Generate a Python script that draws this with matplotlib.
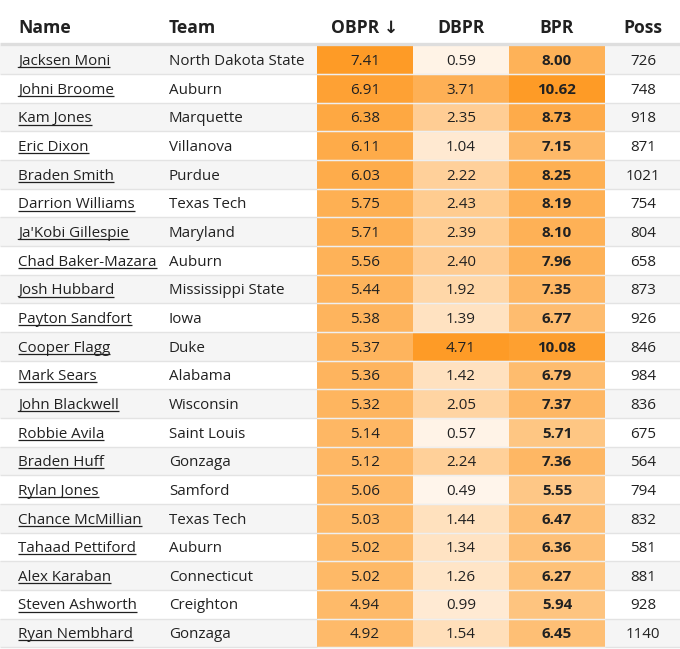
import matplotlib
matplotlib.use("Agg")
import matplotlib.pyplot as plt
from matplotlib.patches import Rectangle
from matplotlib.colors import to_rgb
from matplotlib import font_manager
import numpy as np

# pick a family that actually has a bold face installed
fams = {}
for f in font_manager.fontManager.ttflist:
    fams.setdefault(f.name, set()).add(f.weight if isinstance(f.weight, int) else 400)
family = 'Open Sans'
for cand in ['Noto Sans', 'Open Sans']:
    w = fams.get(cand, set())
    if any(int(x) >= 600 for x in w):
        family = cand
        break
plt.rcParams['font.family'] = [family, 'DejaVu Sans']

names = ["Jacksen Moni", "Johni Broome", "Kam Jones", "Eric Dixon", "Braden Smith",
         "Darrion Williams", "Ja'Kobi Gillespie", "Chad Baker-Mazara", "Josh Hubbard",
         "Payton Sandfort", "Cooper Flagg", "Mark Sears", "John Blackwell", "Robbie Avila",
         "Braden Huff", "Rylan Jones", "Chance McMillian", "Tahaad Pettiford",
         "Alex Karaban", "Steven Ashworth", "Ryan Nembhard"]
teams = ["North Dakota State", "Auburn", "Marquette", "Villanova", "Purdue",
         "Texas Tech", "Maryland", "Auburn", "Mississippi State", "Iowa", "Duke",
         "Alabama", "Wisconsin", "Saint Louis", "Gonzaga", "Samford", "Texas Tech",
         "Auburn", "Connecticut", "Creighton", "Gonzaga"]
obpr = [7.41, 6.91, 6.38, 6.11, 6.03, 5.75, 5.71, 5.56, 5.44, 5.38, 5.37,
        5.36, 5.32, 5.14, 5.12, 5.06, 5.03, 5.02, 5.02, 4.94, 4.92]
dbpr = [0.59, 3.71, 2.35, 1.04, 2.22, 2.43, 2.39, 2.40, 1.92, 1.39, 4.71,
        1.42, 2.05, 0.57, 2.24, 0.49, 1.44, 1.34, 1.26, 0.99, 1.54]
bpr = [8.00, 10.62, 8.73, 7.15, 8.25, 8.19, 8.10, 7.96, 7.35, 6.77, 10.08,
       6.79, 7.37, 5.71, 7.36, 5.55, 6.47, 6.36, 6.27, 5.94, 6.45]
poss = [726, 748, 918, 871, 1021, 754, 804, 658, 873, 926, 846,
        984, 836, 675, 564, 794, 832, 581, 881, 928, 1140]
headers = ["Name", "Team", "OBPR \u2193", "DBPR", "BPR", "Poss"]

W, H = 680, 649
fig = plt.figure(figsize=(W / 100, H / 100), dpi=100)
ax = fig.add_axes([0, 0, 1, 1])
ax.set_xlim(0, W)
ax.set_ylim(H, 0)
ax.axis('off')

txt = '#212121'
light = np.array(to_rgb('#fff7ef'))
dark = np.array(to_rgb('#fe9b26'))

def heat(v, vmin, vmax):
    t = (v - vmin) / (vmax - vmin)
    return tuple(light + (dark - light) * t)

top = 45.5
rh = 28.65
cw = 96
# (left edge, values, colour domain low end)
heat_cols = [(317, obpr, 0.0), (413, dbpr, 0.4), (509, bpr, 0.0)]
fs = 10.9

for i in range(len(names)):
    y0 = top + i * rh
    yc = y0 + rh / 2
    bg = '#f5f5f5' if i % 2 == 0 else 'white'
    ax.add_patch(Rectangle((0, y0), W, rh, color=bg, lw=0))
    for x0, vals, lo in heat_cols:
        ax.add_patch(Rectangle((x0, y0), cw, rh, color=heat(vals[i], lo, max(vals)), lw=0))
    ax.plot([0, W], [y0 + rh, y0 + rh], color='#e3e3e3', lw=1, solid_capstyle='butt')
    ax.plot([317, 605], [y0 + rh, y0 + rh], color='white', lw=1, alpha=0.45,
            solid_capstyle='butt')
    base = yc + 5.3
    t = ax.text(18, base, names[i], ha='left', va='baseline', fontsize=fs, color=txt)
    t._underline = base + 2.2
    ax.text(169, base, teams[i], ha='left', va='baseline', fontsize=fs, color=txt)
    ax.text(365, base, f"{obpr[i]:.2f}", ha='center', va='baseline', fontsize=fs, color=txt)
    ax.text(461, base, f"{dbpr[i]:.2f}", ha='center', va='baseline', fontsize=fs, color=txt)
    ax.text(557, base, f"{bpr[i]:.2f}", ha='center', va='baseline', fontsize=fs,
            color=txt, fontweight='bold')
    ax.text(643, base, str(poss[i]), ha='center', va='baseline', fontsize=fs, color=txt)

# header
hx = [(18, 'left'), (169, 'left'), (365, 'center'), (461, 'center'), (557, 'center'), (643, 'center')]
for (x, ha), h in zip(hx, headers):
    ax.text(x, 32.7, h, ha=ha, va='baseline', fontsize=12.6, fontweight='bold', color=txt)
ax.plot([0, W], [44.2, 44.2], color='#dedede', lw=2.4, solid_capstyle='butt')

# underline the player names
fig.canvas.draw()
r = fig.canvas.get_renderer()
inv = ax.transData.inverted()
for t in list(ax.texts):
    if hasattr(t, '_underline'):
        bb = t.get_window_extent(r)
        (xa, _), (xb, _) = inv.transform([(bb.x0, 0), (bb.x1, 0)])
        ax.plot([xa, xb], [t._underline] * 2, color=txt, lw=0.9, solid_capstyle='butt')

fig.savefig('out.png', dpi=100)
